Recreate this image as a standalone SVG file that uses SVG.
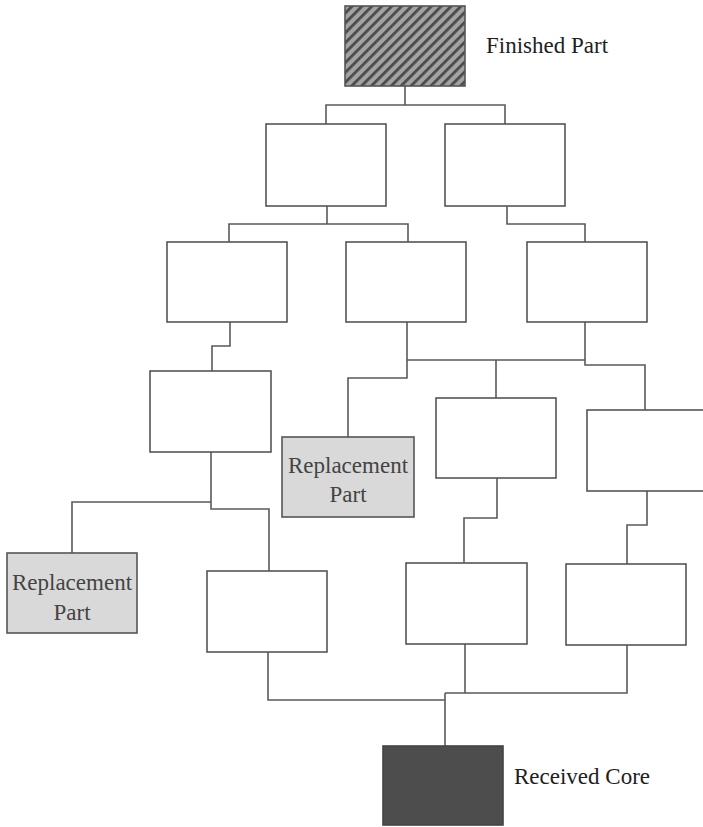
<svg xmlns="http://www.w3.org/2000/svg" width="703" height="827" viewBox="0 0 703 827">
  <style>
    .box { fill: #ffffff; stroke: #555555; stroke-width: 1.6; }
    .repl { fill: #d9d9d9; stroke: #555555; stroke-width: 1.6; }
    .core { fill: #4d4d4d; stroke: #444444; stroke-width: 1.6; }
    .fin { fill: url(#hatch); stroke: #555555; stroke-width: 1.6; }
    .wire { fill: none; stroke: #5a5a5a; stroke-width: 1.6; }
    .label { font-family: "Liberation Serif", "Times New Roman", serif; font-size: 23px; fill: #1e1e1e; }
    .rtext { font-family: "Liberation Serif", "Times New Roman", serif; font-size: 23px; fill: #444444; text-anchor: middle; }
  </style>
  <defs>
    <pattern id="hatch" patternUnits="userSpaceOnUse" width="7" height="7" patternTransform="rotate(45)">
      <rect x="0" y="0" width="7" height="7" fill="#a3a3a3"/>
      <rect x="0" y="0" width="2.8" height="7" fill="#4a4a4a"/>
    </pattern>
  </defs>

  <g id="connectors">
    <path class="wire" d="M405 86 V105 M326 124 V105 H505 V124"/>
    <path class="wire" d="M327 206 V224 M229 242 V224 H408 V242"/>
    <path class="wire" d="M507 206 V224 H585 V242"/>
    <path class="wire" d="M230 322 V346 H212 V371"/>
    <path class="wire" d="M407 322 V378 H348 V437"/>
    <path class="wire" d="M407 360 H585 M585 322 V365 H645 V410 M496 360 V398"/>
    <path class="wire" d="M211 452 V509 H269 V571 M211 502 H72 V553"/>
    <path class="wire" d="M497 478 V518 H464 V563"/>
    <path class="wire" d="M647 491 V525 H627 V564"/>
    <path class="wire" d="M268 652 V700 H445 M465 644 V693 M445 693 H627 V645 M445 693 V746"/>
  </g>

  <g id="finished-part">
    <rect class="fin" x="345" y="6" width="120" height="80"/>
    <text class="label" x="486" y="53">Finished Part</text>
  </g>
  <g id="node-a"><rect class="box" x="266" y="124" width="120" height="82"/></g>
  <g id="node-b"><rect class="box" x="445" y="124" width="120" height="82"/></g>
  <g id="node-c"><rect class="box" x="167" y="242" width="120" height="80"/></g>
  <g id="node-d"><rect class="box" x="346" y="242" width="120" height="80"/></g>
  <g id="node-e"><rect class="box" x="527" y="242" width="120" height="80"/></g>
  <g id="node-f"><rect class="box" x="150" y="371" width="121" height="81"/></g>
  <g id="replacement-1">
    <rect class="repl" x="282" y="437" width="132" height="80"/>
    <text class="rtext" x="348" y="473">Replacement</text>
    <text class="rtext" x="348" y="502">Part</text>
  </g>
  <g id="node-g"><rect class="box" x="436" y="398" width="120" height="80"/></g>
  <g id="node-h"><rect class="box" x="587" y="410" width="130" height="81"/></g>
  <g id="replacement-2">
    <rect class="repl" x="7" y="553" width="130" height="80"/>
    <text class="rtext" x="72" y="590">Replacement</text>
    <text class="rtext" x="72" y="620">Part</text>
  </g>
  <g id="node-i"><rect class="box" x="207" y="571" width="120" height="81"/></g>
  <g id="node-j"><rect class="box" x="406" y="563" width="121" height="81"/></g>
  <g id="node-k"><rect class="box" x="566" y="564" width="120" height="81"/></g>
  <g id="received-core">
    <rect class="core" x="383" y="746" width="120" height="79"/>
    <text class="label" x="514" y="784">Received Core</text>
  </g>
</svg>
